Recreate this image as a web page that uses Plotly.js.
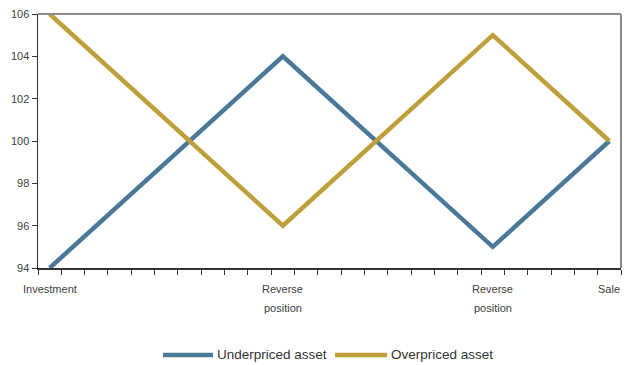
<!DOCTYPE html>
<html>
<head>
<meta charset="utf-8">
<script src="https://cdn.plot.ly/plotly-3.0.1.min.js"></script>
<style>
  html, body { margin: 0; padding: 0; background: #fff; }
  #chart { width: 627px; height: 365px; }
</style>
</head>
<body>
<div id="chart"></div>
<script>
// Holding period split into 25 equal steps; stages are marked on a few of them.
const periods = 25;
const stageIndex = [0, 10, 19, 24];
const stageTop = ['Investment', 'Reverse', 'Reverse', 'Sale'];
const stageBottom = ['', 'position', 'position', ''];

// Asset price path at each stage
const underpriced = [94, 104, 95, 100];
const overpriced = [106, 96, 105, 100];

const yTicks = [94, 96, 98, 100, 102, 104, 106];

const seriesNames = ['Underpriced asset', 'Overpriced asset'];
const blue = '#4a7898';
const gold = '#bf9f3a';
const textColor = '#404040';
const family = 'Liberation Sans, Arial, sans-serif';
const font = { family: family, size: 11, color: textColor };

const traces = [
  {
    x: stageIndex, y: underpriced, name: seriesNames[0],
    type: 'scatter', mode: 'lines', showlegend: false,
    line: { color: blue, width: 4.5 }
  },
  {
    x: stageIndex, y: overpriced, name: seriesNames[1],
    type: 'scatter', mode: 'lines', showlegend: false,
    line: { color: gold, width: 4.5 }
  }
];

// tick marks sit on the boundaries between steps
const boundaries = [];
for (let i = 0; i <= periods; i++) boundaries.push(i - 0.5);

// stage labels, two rows under the axis
const annotations = [];
stageIndex.forEach((xi, k) => {
  annotations.push({ x: xi, xref: 'x', y: 0, yref: 'paper', yanchor: 'middle', yshift: -21,
    text: stageTop[k], showarrow: false, font: font });
  if (stageBottom[k]) {
    annotations.push({ x: xi, xref: 'x', y: 0, yref: 'paper', yanchor: 'middle', yshift: -40,
      text: stageBottom[k], showarrow: false, font: font });
  }
});

// legend drawn as line swatches with labels below the plot
const legendY = -0.3425;
const legendItems = [
  { color: blue, x0: 0.2144, x1: 0.3002, label: seriesNames[0] },
  { color: gold, x0: 0.5094, x1: 0.5986, label: seriesNames[1] }
];
const shapes = [
  { type: 'line', xref: 'paper', yref: 'paper', x0: 0, x1: 1, y0: 1, y1: 1, line: { color: '#8c8c8c', width: 2 } },
  { type: 'line', xref: 'paper', yref: 'paper', x0: 1, x1: 1, y0: 0, y1: 1, line: { color: '#8c8c8c', width: 2 } }
];
legendItems.forEach(it => {
  shapes.push({ type: 'line', xref: 'paper', yref: 'paper', x0: it.x0, x1: it.x1, y0: legendY, y1: legendY,
    line: { color: it.color, width: 4.5 } });
  annotations.push({ x: it.x1 + 0.004, xref: 'paper', xanchor: 'left', y: legendY, yref: 'paper', yanchor: 'middle',
    text: it.label, showarrow: false, font: { family: family, size: 13.5, color: '#333' } });
});

const layout = {
  width: 627, height: 365,
  margin: { l: 38, r: 6, t: 14, b: 97, autoexpand: false },
  paper_bgcolor: '#fff', plot_bgcolor: '#fff',
  font: font,
  showlegend: false,
  xaxis: {
    range: [-0.5, periods - 0.5], fixedrange: true,
    showgrid: false, zeroline: false,
    showline: true, linecolor: '#333', linewidth: 1.5,
    tickmode: 'array', tickvals: boundaries, ticktext: boundaries.map(() => ''),
    ticks: 'outside', ticklen: 5, tickcolor: '#333', tickwidth: 1
  },
  yaxis: {
    range: [94, 106], fixedrange: true,
    showgrid: false, zeroline: false,
    showline: true, linecolor: '#333', linewidth: 1.5,
    tickmode: 'array', tickvals: yTicks,
    ticks: 'outside', ticklen: 5, tickcolor: '#333', tickwidth: 1,
    tickfont: font
  },
  annotations: annotations,
  shapes: shapes
};

Plotly.newPlot('chart', traces, layout, { displayModeBar: false, staticPlot: true });
</script>
</body>
</html>
